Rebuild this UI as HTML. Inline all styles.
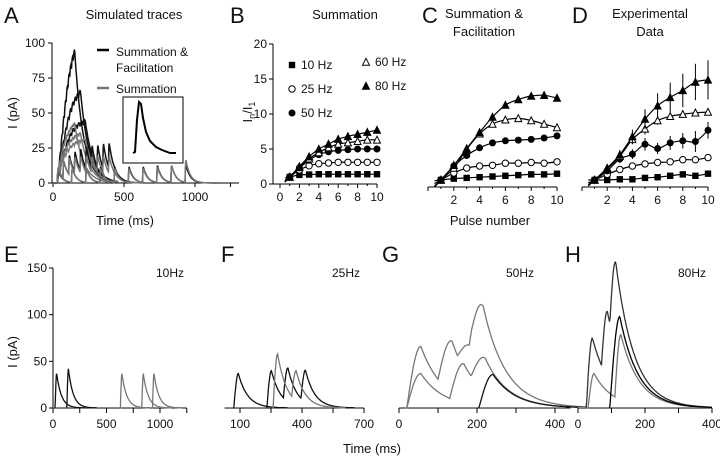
<!DOCTYPE html>
<html><head><meta charset="utf-8"><style>
body{margin:0;background:#fff}
svg{display:block;font-family:"Liberation Sans",sans-serif}
</style></head><body>
<svg id="fig" width="720" height="460" viewBox="0 0 720 460" xmlns="http://www.w3.org/2000/svg">
<g id="static" font-size="12" fill="#111">
 <text x="4" y="23" font-size="22">A</text>
 <text x="230" y="23" font-size="22">B</text>
 <text x="422" y="23" font-size="22">C</text>
 <text x="572" y="23" font-size="22">D</text>
 <text x="4" y="262" font-size="22">E</text>
 <text x="221" y="262" font-size="22">F</text>
 <text x="382" y="262" font-size="22">G</text>
 <text x="565" y="262" font-size="22">H</text>
 <text x="134" y="19" font-size="13" text-anchor="middle">Simulated traces</text>
 <text x="345" y="19" font-size="13" text-anchor="middle">Summation</text>
 <text x="484" y="18" font-size="13" text-anchor="middle">Summation &amp;</text>
 <text x="484" y="36" font-size="13" text-anchor="middle">Facilitation</text>
 <text x="650" y="18" font-size="13" text-anchor="middle">Experimental</text>
 <text x="650" y="36" font-size="13" text-anchor="middle">Data</text>
 <text x="125" y="225" font-size="13" text-anchor="middle">Time (ms)</text>
 <text x="490" y="225" font-size="13" text-anchor="middle">Pulse number</text>
 <text transform="translate(17,113) rotate(-90)" font-size="13" text-anchor="middle">I (pA)</text>
 <text transform="translate(252,112) rotate(-90)" font-size="13" text-anchor="middle">I<tspan font-size="9" dy="3">n</tspan><tspan dy="-3">/I</tspan><tspan font-size="9" dy="3">1</tspan></text>
 <text x="372" y="453" font-size="13" text-anchor="middle">Time (ms)</text>
 <text transform="translate(17,352) rotate(-90)" font-size="13" text-anchor="middle">I (pA)</text>
 <text x="170" y="277" font-size="12" text-anchor="middle">10Hz</text>
 <text x="346" y="277" font-size="12" text-anchor="middle">25Hz</text>
 <text x="520" y="277" font-size="12" text-anchor="middle">50Hz</text>
 <text x="692" y="277" font-size="12" text-anchor="middle">80Hz</text>
 <g>
  <line x1="97" y1="50" x2="109" y2="50" stroke="#000" stroke-width="2.5"/>
  <text x="116" y="56" font-size="12">Summation &amp;</text>
  <text x="116" y="72" font-size="12">Facilitation</text>
  <line x1="97" y1="88" x2="109" y2="88" stroke="#777" stroke-width="2.5"/>
  <text x="116" y="93" font-size="12">Summation</text>
 </g>
 <rect x="123" y="97" width="60" height="66" fill="none" stroke="#000" stroke-width="1"/>
 <path d="M133,153 L135,152 L137,120 L139,102 L141,104 L143,118 L146,132 L150,141 L156,147 L162,150 L170,153 L176,153" fill="none" stroke="#000" stroke-width="2"/>
</g>
<g id="plots"></g>
</svg>
<script>
// ---------- Panels B, C, D data ----------
const pulses = [1,2,3,4,5,6,7,8,9,10];
const freqLabels = ["10 Hz","25 Hz","50 Hz","60 Hz","80 Hz"];
const B10=[1,1.3,1.35,1.4,1.4,1.4,1.4,1.4,1.4,1.4];
const B25=[1,2,2.6,2.9,3,3.1,3.1,3.1,3.1,3.1];
const B50=[1,2.3,3.4,4.2,4.6,4.8,4.9,5,5,5];
const B60=[1,2.4,3.6,4.5,5.2,5.7,5.9,6.1,6.3,6.3];
const B80=[1,2.5,3.9,5,5.7,6.4,6.8,7.1,7.4,7.7];
const C10=[1,1.2,1.3,1.4,1.5,1.6,1.7,1.8,1.8,1.9];
const C25=[1,2,2.7,3.0,3.1,3.4,3.4,3.5,3.4,3.6];
const C50=[1,3,4.5,5.6,6.3,6.6,6.7,6.8,7,7.3];
const C60=[1,2.7,5.4,7.6,9,9.6,9.8,9.5,9,8.5];
const C80=[1,3.1,5.5,7.8,10,11.7,12.5,13,13.1,12.7];
const D10=[1,1,1.1,1.1,1.3,1.4,1.6,1.8,1.6,1.9];
const D25=[1,1.8,2.5,3.0,3.3,3.5,3.6,3.9,3.9,4.2];
const D50=[1,2.3,4,4.7,6.1,5.5,6.3,6.6,6.5,8.1];
const D60=[1,2.6,4.4,6.8,8.3,9.5,10.1,10.4,10.6,10.7];
const D80=[1,2.7,4.6,7.2,9.7,11.6,12.8,13.8,15,15.3];
const D80err=[0.2,0.4,0.7,1,1.4,1.8,2.1,2.4,2.6,2.8];
const D60err=[0.2,0.3,0.5,0.7,0.8,0.6,0.5,0.5,0.5,0.5];
const D50err=[0.2,0.4,0.6,0.7,0.9,0.8,1,1.1,1.5,1.2];
const yTicksRatio=[0,5,10,15,20];
const xTicksPulse=[0,2,4,6,8,10];
// ---------- Panel A traces (pulse amplitudes) ----------
const aFreqs=[80,60,50,80,60,50,25,25,10,10];
const aAmps=[[10,14,17,19,20,21,21,21,21,21],[9,13,15,16,17,17,17,17,17,17],[8,11,12,13,13,13,13,13,13,13],
 [9,9,9,9,9,9,9,9,9,9],[9,9,9,9,9,9,9,9,9,9],[9,9,9,9,9,9,9,9,9,9],
 [9,12,14,15,16,17,17,17,18,18],[10,12,12,12,12,12,12,12,12,12],[9,10,10,11,11,11,11,12,12,13],[10,10,10,10,10,10,10,11,12,16]];
const aTaus=[60,60,60,60,60,60,40,40,30,30];
const aGray=[false,false,false,true,true,true,false,true,false,true];
// ---------- Bottom panels: events (onset ms, amplitude pA) ----------
const eOnsets=[20,130,630,830,930];
const eAmps=[37,42,37,37,37];
const eGray=[false,false,true,true,true];
const fOnsets=[[70],[230,310,395],[260,350]];
const fAmps=[[37],[40,36,34],[58,32]];
const fGray=[false,false,true];
const gOnsets=[[20,100,150,180],[20,130,185],[205]];
const gAmps=[[66,55,35,70],[37,42,35],[36]];
const gGray=[true,true,false];
const hOnsets=[[25,70,95],[30,110],[95]];
const hAmps=[[75,70,90],[37,70],[98]];
const hShade=["#333","#777","#000"];

const NS="http://www.w3.org/2000/svg";
const root=document.getElementById('plots');
function el(tag,attrs,parent){const e=document.createElementNS(NS,tag);for(const k in attrs)e.setAttribute(k,attrs[k]);(parent||root).appendChild(e);return e;}
function txt(x,y,s,anchor,parent){const t=el('text',{x:x,y:y,'font-size':12,'text-anchor':anchor||'middle',fill:'#111'},parent);t.textContent=s;return t;}

function pulseTrace(onsets,amps,tau,rise,tEnd,step){
 const pts=[];
 for(let t=0;t<=tEnd;t+=step){let v=0;onsets.forEach((o,i)=>{const d=t-o;if(d>=0)v+=d<rise?amps[i]*Math.sin(Math.PI/2*d/rise):amps[i]*Math.exp(-(d-rise)/tau);});pts.push([t,v]);}
 return pts;
}

// ---- Panel A ----
const xA=t=>53+t*0.142, yA=v=>183-v*1.4;
const gA=el('g',{});


el('line',{x1:52,y1:183,x2:239,y2:183,stroke:'#000'},gA);
el('line',{x1:52,y1:43,x2:52,y2:183,stroke:'#000'},gA);
[0,25,50,75,100].forEach(v=>{el('line',{x1:48,y1:yA(v),x2:52,y2:yA(v),stroke:'#000'},gA);txt(45,yA(v)+4,String(v),'end',gA);});
[0,500,1000,1250].forEach(v=>{el('line',{x1:xA(v),y1:183,x2:xA(v),y2:187,stroke:'#000'},gA);if(v<1250)txt(xA(v),201,String(v),'middle',gA);});
aAmps.forEach((amps,k)=>{
 const period=1000/aFreqs[k];
 const ons=amps.map((a,i)=>30+i*period);
 const tEnd=ons[9]+250;
 const rise=aFreqs[k]>=50?period*0.9:6;
 const pts=pulseTrace(ons,amps,aTaus[k],rise,tEnd,2);
 const p=el('path',{d:'M'+pts.map(q=>xA(q[0]).toFixed(1)+','+yA(q[1]).toFixed(1)).join('L'),fill:'none',stroke:aGray[k]?'#777':'#111','stroke-width':1.5},gA);
 
 
});

// ---- Panels B, C, D ----
function curve(pts){let d='M'+pts[0][0]+','+pts[0][1];for(let i=0;i<pts.length-1;i++){const p0=pts[i-1]||pts[i],p1=pts[i],p2=pts[i+1],p3=pts[i+2]||p2;d+=`C${p1[0]+(p2[0]-p0[0])/6},${p1[1]+(p2[1]-p0[1])/6} ${p2[0]-(p3[0]-p1[0])/6},${p2[1]-(p3[1]-p1[1])/6} ${p2[0]},${p2[1]}`;}return d;}
function marker(g,kind,x,y){
 const r=3.2;
 if(kind===0)el('rect',{x:x-r,y:y-r,width:2*r,height:2*r,fill:'#000'},g);
 else if(kind===1)el('circle',{cx:x,cy:y,r:r,fill:'#fff',stroke:'#000'},g);
 else if(kind===2)el('circle',{cx:x,cy:y,r:r+0.3,fill:'#000'},g);
 else el('path',{d:`M${x},${y-r-0.5}L${x+r+0.3},${y+r}L${x-r-0.3},${y+r}Z`,fill:kind===3?'#fff':'#000',stroke:'#000'},g);
}
function ratioPanel(name,x0,step,axY,series,errs,yAxis){
 const g=el('g',{});
 
 
 const xs=p=>x0+p*step, ys=v=>axY-v*7;
 el('line',{x1:yAxis?x0-7:x0,y1:axY,x2:xs(10),y2:axY,stroke:'#000'},g);
 xTicksPulse.forEach(v=>{el('line',{x1:xs(v),y1:axY,x2:xs(v),y2:axY+4,stroke:'#000'},g);if(v>0||yAxis)txt(xs(v),axY+17,String(v),'middle',g);});
 [1,3,5,7,9].forEach(v=>el('line',{x1:xs(v),y1:axY,x2:xs(v),y2:axY+2,stroke:'#000'},g));
 if(yAxis){el('line',{x1:x0-7,y1:ys(0),x2:x0-7,y2:ys(20),stroke:'#000'},g);
  yTicksRatio.forEach(v=>{el('line',{x1:x0-11,y1:ys(v),x2:x0-7,y2:ys(v),stroke:'#000'},g);txt(x0-13,ys(v)+4,String(v),'end',g);});}
 series.forEach((s,k)=>{
  const pts=pulses.map((p,i)=>[xs(p),ys(s[i])]);
  const ext=[[xs(0.5),ys(Math.max(0,1-(s[1]-s[0])*0.5))]].concat(pts);
  el('path',{d:curve(ext),fill:'none',stroke:'#000','stroke-width':1.2},g);
  if(errs&&errs[k])pulses.forEach((p,i)=>el('line',{x1:xs(p),y1:ys(s[i]-errs[k][i]),x2:xs(p),y2:ys(s[i]+errs[k][i]),stroke:'#000'},g));
  pulses.forEach((p,i)=>marker(g,k,xs(p),ys(s[i])));
 });
 return g;
}
const gB=ratioPanel('panel-b',280,9.7,184,[B10,B25,B50,B60,B80],null,true);
ratioPanel('panel-c',428,12.9,187,[C10,C25,C50,C60,C80],null,false);
ratioPanel('panel-d',582,12.6,187,[D10,D25,D50,D60,D80],[null,null,D50err,D60err,D80err],false);
const legPos=[[292,65],[292,89],[292,113],[366,62],[366,86]];
freqLabels.forEach((lab,k)=>{const lg=el('g',{},gB);
 
 
 marker(lg,k,legPos[k][0],legPos[k][1]);txt(legPos[k][0]+9,legPos[k][1]+4,lab,'start',lg);});

// ---- Bottom panels ----
const yB=v=>408-v*140/150;
function bottomPanel(name,xs,ax0,ax1,ticks,labels,traces,yAxis){
 const g=el('g',{});
 
 
 el('line',{x1:xs(ax0),y1:408,x2:xs(ax1),y2:408,stroke:'#000'},g);
 ticks.forEach(v=>el('line',{x1:xs(v),y1:408,x2:xs(v),y2:413,stroke:'#000'},g));
 labels.forEach(v=>txt(xs(v),428,String(v),'middle',g));
 if(yAxis){el('line',{x1:xs(ax0),y1:yB(0),x2:xs(ax0),y2:yB(150),stroke:'#000'},g);
  [0,50,100,150].forEach(v=>{el('line',{x1:xs(ax0)-4,y1:yB(v),x2:xs(ax0),y2:yB(v),stroke:'#000'},g);txt(xs(ax0)-6,yB(v)+4,String(v),'end',g);});}
 el('line',{x1:xs(ax0),y1:407.5,x2:xs(ax1)-5,y2:407.5,stroke:'#888'},g);
 traces.forEach(tr=>{
  const pts=pulseTrace(tr.on,tr.amp,tr.tau,tr.rise,tr.end,tr.step).filter(q=>q[0]>=tr.on[0]-tr.step);
  const p=el('path',{d:'M'+pts.map(q=>xs(q[0]).toFixed(1)+','+yB(q[1]).toFixed(1)).join('L'),fill:'none',stroke:tr.col,'stroke-width':1.3},g);
  
  
 });
}
const xE=t=>53+t*0.107;
bottomPanel('panel-e',xE,0,1250,[0,250,500,750,1000,1250],[0,500,1000],
 eOnsets.map((o,i)=>({on:[o],amp:[eAmps[i]],tau:45,rise:14,end:o+280,step:3,col:eGray[i]?'#777':'#111'})),true);
const xF=t=>240+(t-100)*0.2067;
bottomPanel('panel-f',xF,25,700,[100,250,400,550,700],[100,400,700],
 fOnsets.map((o,i)=>({on:o,amp:fAmps[i],tau:45,rise:22,end:o[o.length-1]+260,step:2,col:fGray[i]?'#777':'#111'})),false);
const xG=t=>399+t*0.39;
bottomPanel('panel-g',xG,0,440,[0,100,200,300,400],[0,200,400],
 gOnsets.map((o,i)=>({on:o,amp:gAmps[i],tau:58,rise:36,end:480,step:2,col:gGray[i]?'#777':'#111'})),false);
const xH=t=>578+t*0.335;
bottomPanel('panel-h',xH,0,400,[0,100,200,300,400],[0,200,400],
 hOnsets.map((o,i)=>({on:o,amp:hAmps[i],tau:55,rise:i===2?30:18,end:400,step:2,col:hShade[i]})),false);
</script>
</body></html>
